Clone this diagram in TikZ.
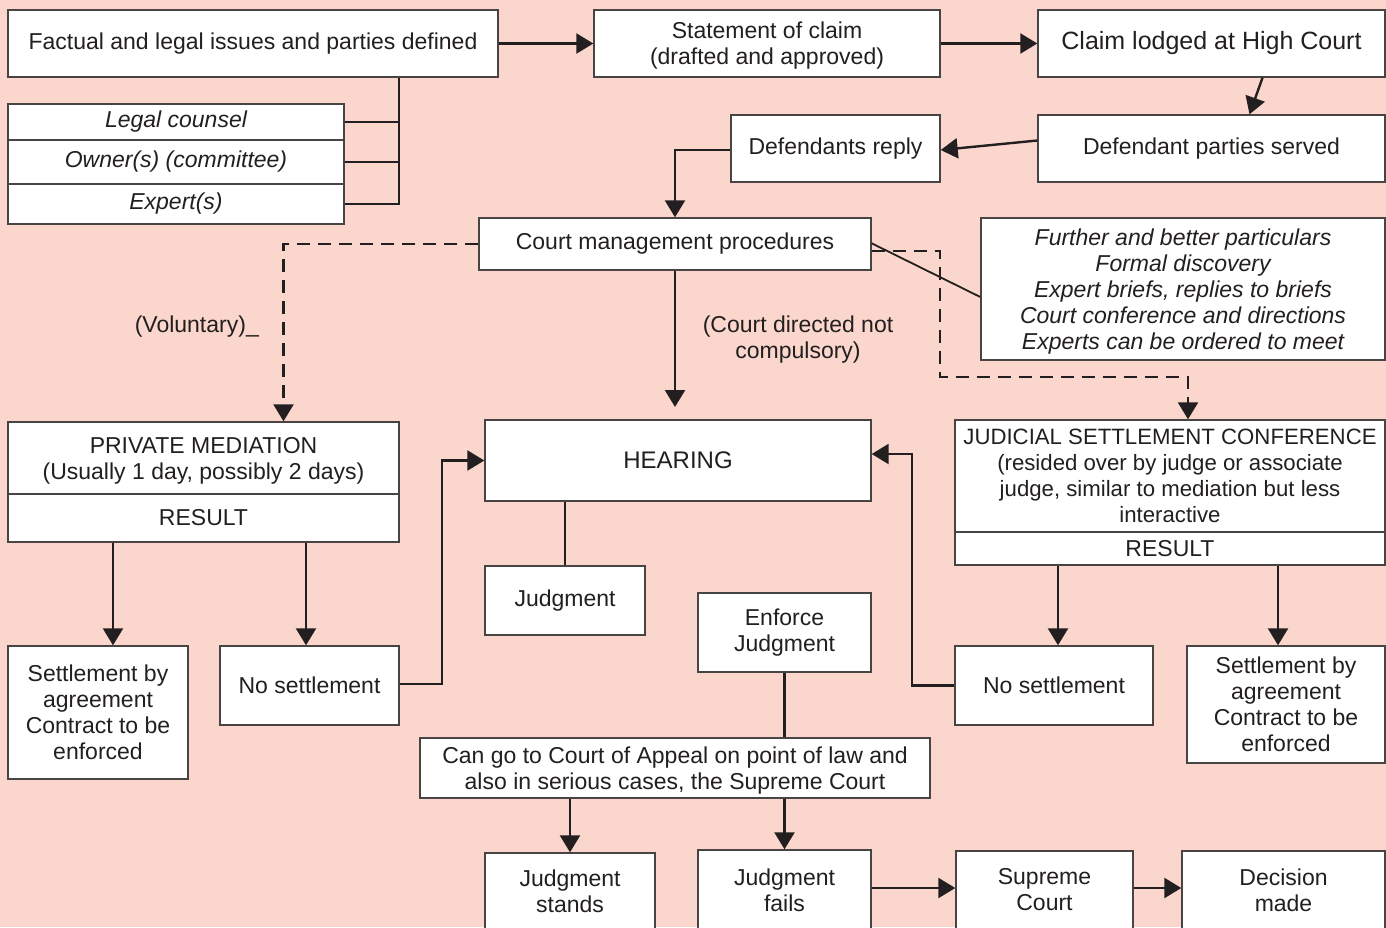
\documentclass[tikz,border=0pt]{standalone}
\usepackage{fontspec}
\setmainfont{Liberation Sans}
\usetikzlibrary{arrows.meta}
\definecolor{bg}{RGB}{250,214,204}
\definecolor{ink}{RGB}{35,31,32}
\definecolor{edge}{RGB}{72,68,68}

% box given by its corners: [style]{name}{x1}{y1}{x2}{y2}{text}
\newcommand\bxat[7][]{\node[bx,#1,minimum width=#5pt-#3pt,minimum height=#6pt-#4pt] (#2) at ({(#3+#5)/2},{(#4+#6)/2}) {#7};}

\begin{document}
\begin{tikzpicture}[x=1pt,y=-1pt,
  txt/.style={font=\fontsize{23}{26}\selectfont},
  bx/.style={draw=edge, line width=1.4pt, fill=white, inner sep=0pt, align=center, text=ink, txt},
  ital/.style={font=\fontsize{23}{26}\selectfont\itshape},
  low/.style={text depth=0pt},
  conn/.style={draw=ink, line width=2.4pt},
  arr/.style={conn, -{Triangle[length=17pt,width=20pt]}},
  dsh/.style={dash pattern=on 13pt off 8pt},
  lbl/.style={text=ink, txt, align=center, inner sep=0pt}
]
\useasboundingbox (0,0) rectangle (1386,927);
\clip (0,0) rectangle (1386,927);
\fill[bg] (0,0) rectangle (1386,927);

% top row
\bxat{fact}{8}{10}{498}{77}{Factual and legal issues and parties defined}
\bxat[low]{stmt}{594}{10}{940}{77}{Statement of claim\\(drafted and approved)}
\bxat[font=\fontsize{25}{28}\selectfont]{claim}{1038}{10}{1385}{77}{Claim lodged at High Court}

% parties stack
\bxat[ital]{lc}{8}{104}{344}{140}{Legal counsel}
\bxat[ital]{ow}{8}{140}{344}{184}{Owner(s) (committee)}
\bxat[ital]{ex}{8}{184}{344}{224}{Expert(s)}

\bxat{reply}{731}{115}{940}{182}{Defendants reply}
\bxat{served}{1038}{115}{1385}{182}{Defendant parties served}

\bxat{cm}{479}{218}{871}{270}{Court management procedures}
\bxat[ital,text depth=-2pt]{fur}{981}{218}{1385}{360}{Further and better particulars\\Formal discovery\\Expert briefs, replies to briefs\\Court conference and directions\\Experts can be ordered to meet}

% mediation, hearing, judicial conference
\bxat[low]{pmtop}{8}{422}{399}{494}{PRIVATE MEDIATION\\(Usually 1 day, possibly 2 days)}
\bxat{pmres}{8}{494}{399}{542}{RESULT}
\bxat[font=\fontsize{24}{27}\selectfont]{hear}{485}{420}{871}{501}{HEARING}
\bxat[low,font=\fontsize{22.2}{26}\selectfont]{jtop}{955}{420}{1385}{532}{JUDICIAL SETTLEMENT CONFERENCE\\(resided over by judge or associate\\judge, similar to mediation but less\\interactive}
\bxat{jres}{955}{532}{1385}{565}{RESULT}

% outcomes
\bxat{setL}{8}{646}{188}{779}{Settlement by\\agreement\\Contract to be\\enforced}
\bxat{nosetL}{220}{646}{399}{725}{No settlement}
\bxat{judg}{485}{566}{645}{635}{Judgment}
\bxat{enf}{698}{593}{871}{672}{Enforce\\Judgment}
\bxat{nosetR}{955}{646}{1153}{725}{No settlement}
\bxat{setR}{1187}{646}{1385}{763}{Settlement by\\agreement\\Contract to be\\enforced}

% appeal row
\bxat[low]{app}{420}{738}{930}{798}{Can go to Court of Appeal on point of law and\\also in serious cases, the Supreme Court}
\bxat{stands}{485}{853}{655}{929}{Judgment\\stands}
\bxat{fails}{698}{850}{871}{930}{Judgment\\fails}
\bxat{sup}{956}{851}{1133}{929}{Supreme\\Court}
\bxat{dec}{1182}{851}{1385}{929}{Decision\\made}

% labels
\node[lbl, anchor=east] (vol) at (259,327) {(Voluntary)\_};
\node[lbl] (cdir) at (798,340) {(Court directed not\\compulsory)};

% helper positions for connector lanes
\coordinate (spine) at (399,0);
\coordinate (lanePL) at (113,0);
\coordinate (lanePR) at (306,0);
\coordinate (laneH) at (442,0);
\coordinate (laneR) at (912,0);
\coordinate (laneJL) at (1058,0);
\coordinate (laneJR) at (1278,0);
\coordinate (dashBend) at (940,377);
\coordinate (hearGap) at (675,407);
\coordinate (hearR) at ([yshift=6.5pt]hear.east);

% top flow
\draw[arr] (fact.east) -- (stmt.west);
\draw[arr] (stmt.east) -- (claim.west);
\draw[arr] ([xshift=51pt]claim.south) -- ([xshift=38pt]served.north);
\draw[arr] ([yshift=8pt]served.west) -- ([yshift=-1.5pt]reply.east);
\draw[arr] ([yshift=-1.5pt]reply.west) -| (cm.north);

% parties joined to the first box
\draw[conn] (fact.south -| spine) -- (spine |- ex.east) -- (ex.east);
\draw[conn] (lc.east) -- (lc.east -| spine);
\draw[conn] (ow.east) -- (ow.east -| spine);

% court management branches
\draw[arr, dsh] (cm.west) -| ([xshift=80pt]pmtop.north);
\draw[arr] (cm.south) -- (hearGap);
\draw[conn, line width=1.8pt] ([yshift=-26pt]cm.north east) -- ([yshift=-8pt]fur.west);
\draw[arr, dsh] ([yshift=-7pt]cm.east) -| (dashBend) -| ([xshift=18pt]jtop.north);

% mediation results
\draw[arr] (pmres.south -| lanePL) -- (setL.north -| lanePL);
\draw[arr] (pmres.south -| lanePR) -- (nosetL.north -| lanePR);
\draw[arr] ([yshift=1.5pt]nosetL.east) -| (laneH |- hear.west) -- (hear.west);

% hearing and judgment
\draw[conn] (hear.south -| judg.north) -- (judg.north);
\draw[conn] (enf.south) -- (enf.south |- app.north);
\draw[arr] (app.south -| stands.north) -- (stands.north);
\draw[arr] (app.south -| fails.north) -- (fails.north);
\draw[arr] ([yshift=2pt]fails.east) -- ([yshift=2pt]sup.west);
\draw[arr] ([yshift=2pt]sup.east) -- ([yshift=2pt]dec.west);

% judicial conference results
\draw[arr] (jres.south -| laneJL) -- (nosetR.north -| laneJL);
\draw[arr] (jres.south -| laneJR) -- (setR.north -| laneJR);
\draw[arr] (nosetR.west) -| (laneR |- hearR) -- (hearR);
\end{tikzpicture}
\end{document}
